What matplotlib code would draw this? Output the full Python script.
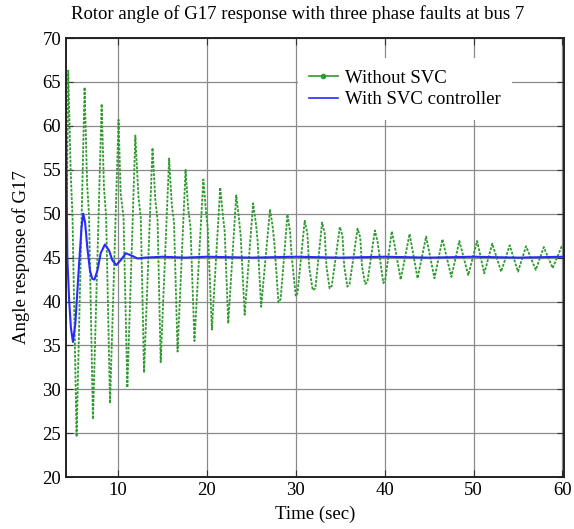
import matplotlib
matplotlib.use('agg')
import matplotlib.pyplot as plt
from matplotlib.lines import Line2D

plt.rcParams['font.family'] = ['Liberation Serif', 'DejaVu Serif']

# Without SVC: points (peaks, shoulders, troughs)
t_nosvc = [4.15, 4.4, 4.67, 4.88, 5.34,
           6.24, 6.52, 6.74, 7.18,
           8.16, 8.42, 8.66, 9.1,
           10.06, 10.3, 10.62, 11.05,
           11.95, 12.3, 12.56, 12.93,
           13.88, 14.2, 14.45, 14.8,
           15.75, 16.05, 16.3, 16.7,
           17.6, 17.9, 18.15, 18.6,
           19.6, 19.9, 20.1, 20.56,
           21.5, 21.8, 22.0, 22.4,
           23.3, 23.6, 23.8, 24.25,
           25.2, 25.5, 25.7, 26.1,
           27.1, 27.4, 27.6, 28.05, 28.3,
           29.06, 29.35, 29.55, 30.0, 30.2,
           31.0, 31.3, 31.5, 31.9, 32.2,
           32.96, 33.25, 33.45, 33.8, 34.05,
           34.96, 35.25, 35.45, 35.8, 36.05,
           36.95, 37.25, 37.45, 37.8, 38.05,
           38.9, 39.2, 39.85, 40.05,
           40.8, 41.1, 41.8,
           42.8, 43.7, 44.66, 45.6, 46.5, 47.5, 48.4, 49.4, 50.4, 51.2,
           52.1, 53.1, 54.06, 55.0, 55.9, 57.0, 57.9, 58.9, 59.9, 60.1]
y_nosvc = [41.0, 66.3, 55.0, 49.6, 24.6,
           64.4, 53.5, 49.8, 26.6,
           62.5, 53.0, 49.7, 28.4,
           60.7, 52.3, 49.6, 30.2,
           58.9, 51.9, 49.6, 31.9,
           57.5, 51.5, 49.3, 33.1,
           56.3, 51.0, 49.0, 34.3,
           55.0, 50.5, 48.5, 35.5,
           53.9, 50.2, 48.3, 36.8,
           53.0, 49.8, 48.0, 37.5,
           52.1, 49.5, 47.5, 38.5,
           51.2, 49.0, 47.0, 39.4,
           50.5, 48.5, 46.5, 39.9, 40.3,
           49.9, 48.0, 45.0, 40.6, 41.0,
           49.2, 47.8, 44.0, 41.3, 41.5,
           49.0, 47.8, 44.0, 41.5, 41.8,
           48.5, 47.5, 44.0, 41.7, 42.0,
           48.3, 47.3, 44.0, 42.0, 42.2,
           48.1, 46.8, 42.1, 42.4,
           48.0, 46.5, 42.5,
           47.7, 42.65, 47.4, 42.65, 47.1, 42.8, 46.9, 43.0, 46.9, 43.2,
           46.6, 43.4, 46.4, 43.4, 46.3, 43.6, 46.2, 43.8, 46.25, 46.1]

# With SVC controller
t_svc = [4.15, 4.3, 4.5, 4.7, 4.93, 5.2, 5.6, 5.9, 6.09, 6.3, 6.54, 6.85,
         7.1, 7.35, 7.7, 8.05, 8.53, 9.0, 9.36, 9.8, 10.3, 10.87, 11.6, 12.2,
         13.0, 15.0, 17.5, 20.0, 25.0, 30.0, 35.0, 40.0, 45.0, 50.0, 55.0,
         60.2]
y_svc = [60.0, 45.0, 40.2, 37.0, 35.4, 37.5, 43.95, 48.5, 50.0, 49.0, 46.2,
         43.5, 42.6, 42.5, 43.6, 45.5, 46.5, 45.8, 44.7, 44.15, 44.7, 45.5,
         45.2, 44.9, 45.0, 45.1, 45.0, 45.1, 45.0, 45.1, 45.0, 45.1, 45.0,
         45.1, 45.0, 45.1]

fig = plt.figure(figsize=(5.74, 5.29), dpi=100)
ax = fig.add_axes([0.115, 0.098, 0.868, 0.830])

green = '#2f9a2f'
blue = '#2a2aff'
ax.plot(t_nosvc, y_nosvc, color=green, lw=1.3, linestyle=(0, (1.5, 0.8)))
ax.plot(t_svc, y_svc, color=blue, lw=1.5)

ax.set_xlim(4.15, 60.2)
ax.set_ylim(20, 70)
ax.set_xticks([10, 20, 30, 40, 50, 60])
ax.set_yticks(range(20, 71, 5))
ax.grid(True, color='#8a8a8a', lw=0.9)
ax.tick_params(direction='in', top=True, right=True, labelsize=13.5,
               length=5, color='#333333')
for s in ax.spines.values():
    s.set_linewidth(1.4)
    s.set_color('#222222')

ax.set_xlabel('Time (sec)', fontsize=13.5, labelpad=5)
ax.set_ylabel('Angle response of G17', fontsize=13.5, labelpad=9)
fig.text(0.519, 0.9735, 'Rotor angle of G17 response with three phase faults at bus 7',
         ha='center', va='center', fontsize=13.5)

handles = [Line2D([], [], color=green, lw=1.2, marker='.', markersize=6),
           Line2D([], [], color=blue, lw=1.2)]
leg = ax.legend(handles, ['Without SVC', 'With SVC controller'],
                loc='upper left', bbox_to_anchor=(0.466, 0.954), fontsize=13.5,
                frameon=True, borderaxespad=0, borderpad=0.6,
                handlelength=1.5, handletextpad=0.4, labelspacing=0.25)
leg.get_frame().set_edgecolor('none')
leg.get_frame().set_facecolor('white')
leg.get_frame().set_alpha(1)
leg.get_frame().set_boxstyle('square', pad=0)

fig.savefig('out.png', dpi=100)
